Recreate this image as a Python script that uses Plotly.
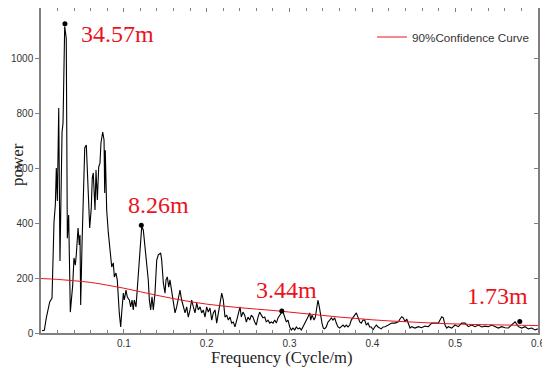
import plotly.graph_objects as go

# Power spectrum
freq = [0.0012, 0.0040, 0.0064, 0.0085, 0.0105, 0.0133, 0.0157, 0.0173, 0.0185, 0.0197,
        0.0214, 0.0229, 0.0254, 0.0266, 0.0286, 0.0305, 0.0318, 0.0334, 0.0346, 0.0354,
        0.0383, 0.0398, 0.0414, 0.0426, 0.0447, 0.0462, 0.0471, 0.0479, 0.0495, 0.0516,
        0.0528, 0.0547, 0.0567, 0.0588, 0.0607, 0.0619, 0.0631, 0.0652, 0.0664, 0.0680,
        0.0697, 0.0712, 0.0724, 0.0745, 0.0761, 0.0769, 0.0776, 0.0793, 0.0813, 0.0833,
        0.0854, 0.0873, 0.0885, 0.0905, 0.0921, 0.0945, 0.0962, 0.0974, 0.0994, 0.1006,
        0.1026, 0.1042, 0.1066, 0.1083, 0.1099, 0.1114, 0.1126, 0.1147, 0.1163, 0.1180,
        0.1195, 0.1216, 0.1235, 0.1256, 0.1276, 0.1295, 0.1308, 0.1324, 0.1340, 0.1356,
        0.1376, 0.1397, 0.1416, 0.1445, 0.1457, 0.1477, 0.1497, 0.1509, 0.1525, 0.1542,
        0.1557, 0.1578, 0.1597, 0.1618, 0.1638, 0.1658, 0.1678, 0.1698, 0.1718, 0.1739,
        0.1759, 0.1778, 0.1799, 0.1819, 0.1839, 0.1859, 0.1880, 0.1899, 0.1920, 0.1940,
        0.1959, 0.1980, 0.2000, 0.2020, 0.2040, 0.2061, 0.2080, 0.2101, 0.2121, 0.2141,
        0.2161, 0.2182, 0.2201, 0.2221, 0.2242, 0.2261, 0.2282, 0.2302, 0.2322, 0.2342,
        0.2363, 0.2382, 0.2403, 0.2418, 0.2439, 0.2459, 0.2479, 0.2499, 0.2520, 0.2539,
        0.2559, 0.2580, 0.2599, 0.2620, 0.2640, 0.2660, 0.2680, 0.2701, 0.2720, 0.2741,
        0.2761, 0.2780, 0.2801, 0.2821, 0.2841, 0.2861, 0.2882, 0.2901, 0.2922, 0.2942,
        0.2962, 0.2982, 0.3003, 0.3022, 0.3042, 0.3063, 0.3082, 0.3103, 0.3123, 0.3143,
        0.3163, 0.3184, 0.3203, 0.3223, 0.3244, 0.3256, 0.3272, 0.3296, 0.3312, 0.3329,
        0.3344, 0.3360, 0.3377, 0.3392, 0.3408, 0.3425, 0.3444, 0.3465, 0.3485, 0.3505,
        0.3525, 0.3546, 0.3565, 0.3586, 0.3606, 0.3626, 0.3646, 0.3667, 0.3686, 0.3706,
        0.3727, 0.3746, 0.3767, 0.3787, 0.3807, 0.3827, 0.3848, 0.3867, 0.3888, 0.3908,
        0.3927, 0.3948, 0.3968, 0.3988, 0.4008, 0.4029, 0.4048, 0.4069, 0.4089, 0.4108,
        0.4129, 0.4153, 0.4193, 0.4234, 0.4274, 0.4314, 0.4334, 0.4355, 0.4374, 0.4395,
        0.4415, 0.4434, 0.4455, 0.4475, 0.4515, 0.4555, 0.4596, 0.4636, 0.4676, 0.4717,
        0.4757, 0.4797, 0.4817, 0.4838, 0.4857, 0.4877, 0.4898, 0.4917, 0.4958, 0.4998,
        0.5038, 0.5079, 0.5119, 0.5159, 0.5200, 0.5240, 0.5280, 0.5321, 0.5360, 0.5400,
        0.5441, 0.5481, 0.5521, 0.5562, 0.5602, 0.5642, 0.5683, 0.5723, 0.5763, 0.5803,
        0.5843, 0.5883, 0.5924, 0.5964, 0.5997]
power = [8, 10, 55, 80, 113, 127, 404, 465, 600, 480,
         818, 262, 730, 764, 1115, 1072, 345, 429, 247, 76,
         175, 273, 247, 284, 382, 320, 356, 102, 320, 585,
         673, 684, 513, 382, 455, 564, 582, 447, 593, 484,
         604, 618, 691, 731, 702, 509, 665, 447, 364, 313,
         240, 255, 204, 218, 193, 73, 22, 73, 145, 120,
         156, 131, 120, 95, 120, 84, 120, 95, 167, 204,
         276, 387, 375, 314, 255, 193, 120, 84, 132, 84,
         145, 265, 284, 291, 265, 182, 145, 193, 204, 167,
         193, 156, 109, 73, 95, 131, 156, 120, 95, 73,
         95, 58, 84, 120, 95, 73, 109, 84, 95, 73,
         84, 58, 95, 76, 91, 47, 73, 84, 36, 73,
         120, 145, 120, 58, 65, 47, 58, 36, 40, 22,
         47, 73, 95, 58, 76, 65, 40, 58, 47, 65,
         58, 40, 29, 58, 76, 65, 55, 58, 40, 47,
         36, 40, 36, 47, 36, 55, 65, 73, 76, 58,
         40, 47, 22, 11, 18, 11, 22, 15, 18, 11,
         22, 36, 47, 58, 73, 47, 65, 47, 58, 84,
         120, 95, 58, 36, 18, 15, 22, 40, 47, 55,
         47, 55, 36, 22, 18, 22, 29, 22, 29, 22,
         29, 47, 58, 65, 73, 58, 40, 36, 47, 47,
         29, 36, 22, 22, 11, 22, 29, 22, 18, 15,
         22, 23, 29, 36, 36, 41, 51, 59, 55, 41,
         51, 36, 18, 23, 18, 23, 19, 25, 23, 36,
         37, 36, 47, 59, 55, 29, 18, 23, 18, 29,
         23, 36, 36, 23, 29, 23, 29, 22, 25, 23,
         29, 23, 18, 23, 19, 18, 29, 41, 23, 18,
         23, 15, 18, 11, 15]

# 90% confidence curve
conf_freq = [0.00, 0.02, 0.04, 0.06, 0.08, 0.10, 0.12, 0.14, 0.16, 0.18,
             0.20, 0.22, 0.24, 0.26, 0.28, 0.30, 0.32, 0.34, 0.36, 0.38,
             0.40, 0.42, 0.44, 0.46, 0.48, 0.50, 0.52, 0.54, 0.56, 0.58, 0.60]
conf_power = [198, 195, 190, 184, 174, 163, 150, 137, 125, 114,
              105, 98, 92, 87, 82, 76, 70, 64, 58, 53,
              48, 44, 41, 38, 35, 33, 31, 30, 29, 28, 27]

# Labelled peaks
peak_labels = ["34.57m", "8.26m", "3.44m", "1.73m"]
peak_freq = [0.0289, 0.1211, 0.2907, 0.5780]
peak_power = [1125, 392, 80, 42]
label_x = [0.0924, 0.1420, 0.2965, 0.5510]
label_y = [1089, 465, 158, 135]

x_ticks = [0.1, 0.2, 0.3, 0.4, 0.5, 0.6]
y_ticks = [0, 200, 400, 600, 800, 1000]

RED = "#e8141c"
AXC = "#808080"

# page body has an 8px margin: figure is 542x360 placed at (8, 8)
PH = 325.0  # plot-area height in px


def px_x(px):
    return (px - 41) / 497.0


def px_y(py):
    return (333 - py) / PH


fig = go.Figure()
fig.add_trace(go.Scatter(x=freq, y=power, mode="lines",
                         line=dict(color="black", width=1.1), showlegend=False))
fig.add_trace(go.Scatter(x=conf_freq, y=conf_power, mode="lines",
                         line=dict(color=RED, width=1, shape="spline"),
                         name="90%Confidence Curve"))
fig.add_trace(go.Scatter(x=peak_freq, y=peak_power, mode="markers",
                         marker=dict(color="black", size=5), showlegend=False))
fig.add_trace(go.Scatter(x=[None], y=[None], yaxis="y2", showlegend=False))

for t, xx, yy in zip(peak_labels, label_x, label_y):
    fig.add_annotation(x=xx, y=yy, text=t, showarrow=False,
                       font=dict(family="Liberation Serif", size=24, color=RED),
                       xanchor="center", yanchor="middle")

fig.add_annotation(text="Frequency (Cycle/m)", xref="paper", yref="paper",
                   x=px_x(281), y=px_y(357.5), showarrow=False,
                   xanchor="center", yanchor="middle",
                   font=dict(family="Liberation Serif", size=16.6, color="#222"))
fig.add_annotation(text="power", xref="paper", yref="paper", textangle=-90,
                   x=px_x(17), y=px_y(165), showarrow=False,
                   xanchor="center", yanchor="middle",
                   font=dict(family="Liberation Serif", size=17, color="#222"))

fig.update_layout(
    width=542, height=360,
    margin=dict(l=33, r=12, t=0, b=35, autoexpand=False),
    paper_bgcolor="white", plot_bgcolor="white",
    xaxis=dict(range=[0, 0.6], tickvals=x_ticks, ticktext=[str(v) for v in x_ticks],
               ticks="inside", ticklen=4, tickcolor=AXC, showgrid=False, zeroline=False,
               showline=True, linecolor=AXC, linewidth=1.5, mirror="ticks",
               minor=dict(dtick=0.02, tick0=0, ticks="inside", ticklen=3, tickcolor=AXC),
               tickfont=dict(family="Liberation Sans", size=10, color="#333"),
               ticklabeloverflow="allow", automargin=False),
    yaxis=dict(range=[0, 1182], tickvals=y_ticks, ticks="outside", ticklen=4,
               tickcolor=AXC, showgrid=False, zeroline=False, showline=True,
               linecolor=AXC, linewidth=1.5, automargin=False,
               tickfont=dict(family="Liberation Sans", size=10, color="#333")),
    yaxis2=dict(range=[0, 1182], overlaying="y", side="right", tickvals=y_ticks,
                ticks="inside", ticklen=4, tickcolor=AXC, showticklabels=False,
                showgrid=False, zeroline=False, showline=True, linecolor=AXC,
                linewidth=1.5, automargin=False),
    legend=dict(x=px_x(372), y=px_y(37), xanchor="left", yanchor="middle",
                bgcolor="rgba(0,0,0,0)", borderwidth=0,
                font=dict(family="Liberation Sans", size=11.7, color="#333")),
)

fig.write_html("out.html")
